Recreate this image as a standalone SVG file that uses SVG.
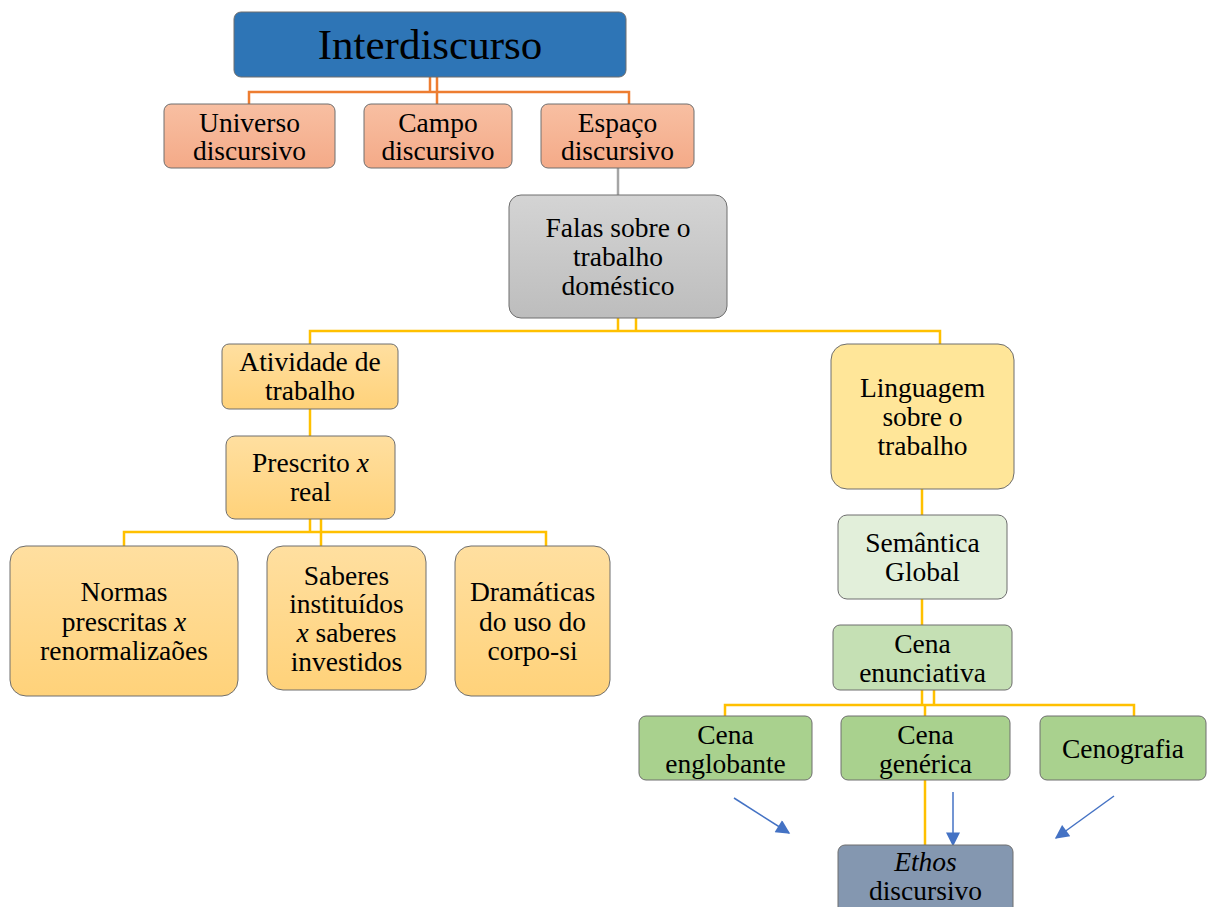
<svg xmlns="http://www.w3.org/2000/svg" width="1208" height="907" viewBox="0 0 1208 907">
  <defs>
    <linearGradient id="gSalmon" x1="0" y1="0" x2="0" y2="1">
      <stop offset="0" stop-color="#F8BFA2"/>
      <stop offset="1" stop-color="#F4AA88"/>
    </linearGradient>
    <linearGradient id="gGray" x1="0" y1="0" x2="0" y2="1">
      <stop offset="0" stop-color="#D4D4D4"/>
      <stop offset="1" stop-color="#BDBDBD"/>
    </linearGradient>
    <linearGradient id="gGold" x1="0" y1="0" x2="0" y2="1">
      <stop offset="0" stop-color="#FFDFA0"/>
      <stop offset="1" stop-color="#FFD27A"/>
    </linearGradient>
    <marker id="arrowBig" viewBox="0 0 10 10" refX="9" refY="5" markerWidth="16" markerHeight="14" orient="auto" markerUnits="userSpaceOnUse">
      <path d="M0,0 L10,5 L0,10 z" fill="#4472C4"/>
    </marker>
  </defs>
  <style>
    .box { stroke: #6E6E6E; stroke-width: 1; }
    .t { font-family: "Liberation Serif", "Times New Roman", serif; font-size: 27.5px; fill: #000; text-anchor: middle; }
    .title { font-size: 43px; }
    .or { stroke: #ED7D31; stroke-width: 2.5; fill: none; }
    .ye { stroke: #FFC000; stroke-width: 2.5; fill: none; }
    .gr { stroke: #A5A5A5; stroke-width: 2.5; fill: none; }
    .bl { stroke: #4472C4; stroke-width: 1.5; fill: none; }
  </style>
  <rect width="1208" height="907" fill="#FFFFFF"/>

  <g id="connectors">
    <!-- Interdiscurso to its three children -->
    <path class="or" d="M430,77 V92 M437,77 V92 M249,104 V92 H629 V104 M437,92 V104"/>
    <!-- Espaço discursivo to Falas -->
    <path class="gr" d="M618,168 V195"/>
    <!-- Falas to two branches -->
    <path class="ye" d="M618,318 V331 M636,318 V331 M310,344 V331 H940 V344"/>
    <!-- left branch -->
    <path class="ye" d="M310,409 V436"/>
    <path class="ye" d="M310,519 V532 M321,519 V532 M124,546 V532 H546 V546 M321,532 V546"/>
    <!-- right branch -->
    <path class="ye" d="M922,489 V515"/>
    <path class="ye" d="M922,599 V625"/>
    <path class="ye" d="M922,690 V705 M934,690 V705 M725,716 V705 H1134 V716 M925,705 V716"/>
    <path class="ye" d="M925,780 V845"/>
    <!-- arrows toward Ethos -->
    <path class="bl" d="M734,798 L789,833" marker-end="url(#arrowBig)"/>
    <path class="bl" d="M953,792 L953,845" marker-end="url(#arrowBig)"/>
    <path class="bl" d="M1114,796 L1056,838" marker-end="url(#arrowBig)"/>
  </g>

  <g id="interdiscurso">
    <rect class="box" x="234" y="12" width="392" height="65" rx="7" fill="#2E75B6" stroke="#1F4E79"/>
    <text class="t title" x="430" y="59">Interdiscurso</text>
  </g>

  <g id="universo">
    <rect class="box" x="164" y="104" width="171" height="64" rx="7" fill="url(#gSalmon)"/>
    <text class="t" x="249.5" y="132">Universo</text>
    <text class="t" x="249.5" y="160">discursivo</text>
  </g>
  <g id="campo">
    <rect class="box" x="364" y="104" width="148" height="64" rx="7" fill="url(#gSalmon)"/>
    <text class="t" x="438" y="132">Campo</text>
    <text class="t" x="438" y="160">discursivo</text>
  </g>
  <g id="espaco">
    <rect class="box" x="541" y="104" width="153" height="64" rx="7" fill="url(#gSalmon)"/>
    <text class="t" x="617.5" y="132">Espaço</text>
    <text class="t" x="617.5" y="160">discursivo</text>
  </g>

  <g id="falas">
    <rect class="box" x="509" y="195" width="218" height="123" rx="12" fill="url(#gGray)"/>
    <text class="t" x="618" y="237">Falas sobre o</text>
    <text class="t" x="618" y="266">trabalho</text>
    <text class="t" x="618" y="295">doméstico</text>
  </g>

  <g id="atividade">
    <rect class="box" x="222" y="344" width="176" height="65" rx="7" fill="url(#gGold)"/>
    <text class="t" x="310" y="371">Atividade de</text>
    <text class="t" x="310" y="400">trabalho</text>
  </g>
  <g id="prescrito">
    <rect class="box" x="226" y="436" width="169" height="83" rx="9" fill="url(#gGold)"/>
    <text class="t" x="310.5" y="472">Prescrito <tspan font-style="italic">x</tspan></text>
    <text class="t" x="310.5" y="501">real</text>
  </g>
  <g id="normas">
    <rect class="box" x="10" y="546" width="228" height="150" rx="16" fill="url(#gGold)"/>
    <text class="t" x="124" y="601">Normas</text>
    <text class="t" x="124" y="631">prescritas <tspan font-style="italic">x</tspan></text>
    <text class="t" x="124" y="660">renormalizaões</text>
  </g>
  <g id="saberes">
    <rect class="box" x="267" y="546" width="159" height="144" rx="16" fill="url(#gGold)"/>
    <text class="t" x="346.5" y="585">Saberes</text>
    <text class="t" x="346.5" y="613">instituídos</text>
    <text class="t" x="346.5" y="642"><tspan font-style="italic">x</tspan> saberes</text>
    <text class="t" x="346.5" y="671">investidos</text>
  </g>
  <g id="dramaticas">
    <rect class="box" x="455" y="546" width="155" height="150" rx="16" fill="url(#gGold)"/>
    <text class="t" x="532.5" y="601">Dramáticas</text>
    <text class="t" x="532.5" y="631">do uso do</text>
    <text class="t" x="532.5" y="660">corpo-si</text>
  </g>

  <g id="linguagem">
    <rect class="box" x="831" y="344" width="183" height="145" rx="16" fill="#FFE699"/>
    <text class="t" x="922.5" y="397">Linguagem</text>
    <text class="t" x="922.5" y="426">sobre o</text>
    <text class="t" x="922.5" y="455">trabalho</text>
  </g>
  <g id="semantica">
    <rect class="box" x="838" y="515" width="169" height="84" rx="9" fill="#E2EFDA"/>
    <text class="t" x="922.5" y="552">Semântica</text>
    <text class="t" x="922.5" y="581">Global</text>
  </g>
  <g id="cena-enunciativa">
    <rect class="box" x="833" y="625" width="179" height="65" rx="7" fill="#C5E0B4"/>
    <text class="t" x="922.5" y="653">Cena</text>
    <text class="t" x="922.5" y="682">enunciativa</text>
  </g>
  <g id="cena-englobante">
    <rect class="box" x="639" y="716" width="173" height="64" rx="7" fill="#A9D18E"/>
    <text class="t" x="725.5" y="744">Cena</text>
    <text class="t" x="725.5" y="773">englobante</text>
  </g>
  <g id="cena-generica">
    <rect class="box" x="841" y="716" width="169" height="64" rx="7" fill="#A9D18E"/>
    <text class="t" x="925.5" y="744">Cena</text>
    <text class="t" x="925.5" y="773">genérica</text>
  </g>
  <g id="cenografia">
    <rect class="box" x="1040" y="716" width="166" height="64" rx="7" fill="#A9D18E"/>
    <text class="t" x="1123" y="758">Cenografia</text>
  </g>
  <g id="ethos">
    <rect class="box" x="838" y="845" width="175" height="70" rx="7" fill="#8497B0"/>
    <text class="t" x="925.5" y="871" font-style="italic">Ethos</text>
    <text class="t" x="925.5" y="900">discursivo</text>
  </g>
</svg>
